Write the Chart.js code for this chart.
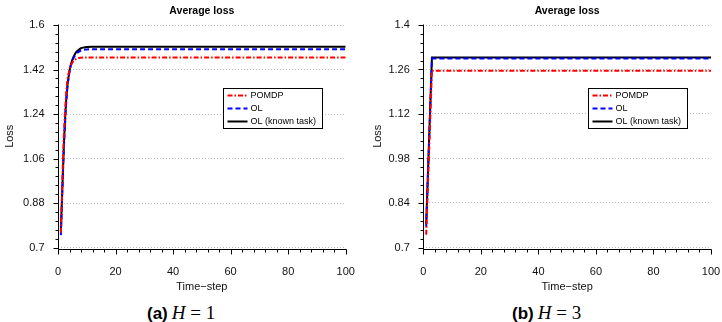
<!DOCTYPE html>
<html>
<head>
<meta charset="utf-8">
<script src="https://cdn.jsdelivr.net/npm/chart.js@4.4.1/dist/chart.umd.min.js"></script>
<style>
  body { margin: 0; background: #fff; width: 722px; height: 322px; position: relative; overflow: hidden; }
  canvas { position: absolute; top: 0; }
  #lossA { left: 0; }
  #lossB { left: 361px; }
  .cap { position: absolute; top: 302px; line-height: 22px; white-space: nowrap; color: #000; }
  .cap b { font-family: "Liberation Sans", Arial, sans-serif; font-size: 17px; }
  .cap .m { font-family: "Liberation Serif", "DejaVu Serif", serif; font-size: 19px; }
</style>
</head>
<body>
<canvas id="lossA" width="361" height="300"></canvas>
<canvas id="lossB" width="361" height="300"></canvas>
<div class="cap" style="left:147px"><b>(a)</b> <span class="m"><i>H</i> = 1</span></div>
<div class="cap" style="left:512px"><b>(b)</b> <span class="m"><i>H</i> = 3</span></div>
<script>
// (a) H = 1
const stepsA   = [1, 2, 3, 4, 5, 6, 7, 8, 9, 10, 12, 15, 20, 100];
const pomdpA   = [0.76, 1.14, 1.345, 1.42, 1.448, 1.46, 1.466, 1.468, 1.469, 1.469, 1.469, 1.469, 1.469, 1.469];
const olA      = [0.75, 1.09, 1.31, 1.41, 1.455, 1.478, 1.49, 1.497, 1.5, 1.501, 1.502, 1.502, 1.502, 1.502];
const olKnownA = [0.765, 1.10, 1.32, 1.415, 1.46, 1.485, 1.498, 1.506, 1.509, 1.511, 1.512, 1.512, 1.512, 1.512];
const yTicksA  = [0.7, 0.88, 1.06, 1.24, 1.42, 1.6];

// (b) H = 3
const stepsB   = [1, 2, 3, 4, 100];
const pomdpB   = [0.74, 1.0, 1.256, 1.256, 1.256];
const olB      = [0.765, 1.03, 1.295, 1.295, 1.295];
const olKnownB = [0.775, 1.037, 1.298, 1.298, 1.298];
const yTicksB  = [0.7, 0.84, 0.98, 1.12, 1.26, 1.4];

const xTicks = [0, 20, 40, 60, 80, 100];
const seriesNames = ['POMDP', 'OL', 'OL (known task)'];

const FONT = '"Liberation Sans", Arial, sans-serif';

// axes with outward ticks + minor ticks, and the title over the plot
const matlabAxes = {
  id: 'matlabAxes',
  afterDraw(chart, args, o) {
    const ctx = chart.ctx;
    const a = chart.chartArea;
    const xs = chart.scales.x, ys = chart.scales.y;
    const ax = Math.round(a.left) + 0.5;
    const ay = Math.round(a.bottom) + 1.5;
    ctx.save();
    ctx.strokeStyle = '#000';
    ctx.lineWidth = 1;
    ctx.setLineDash([]);
    ctx.beginPath();
    ctx.moveTo(ax, Math.round(a.top) - 0.5);
    ctx.lineTo(ax, ay);
    ctx.lineTo(Math.round(a.right) + 0.5, ay);
    // y ticks
    for (let i = 0; i < o.yTicks.length; i++) {
      const v0 = o.yTicks[i];
      const py = Math.round(ys.getPixelForValue(v0)) + 0.5;
      ctx.moveTo(ax - 5, py); ctx.lineTo(ax, py);
      if (i < o.yTicks.length - 1) {
        const step = (o.yTicks[i + 1] - v0) / 5;
        for (let k = 1; k < 5; k++) {
          const pm = Math.round(ys.getPixelForValue(v0 + k * step)) + 0.5;
          ctx.moveTo(ax - 3, pm); ctx.lineTo(ax, pm);
        }
      }
    }
    // x ticks
    for (let v = 0; v <= 100; v += 4) {
      const px = Math.round(xs.getPixelForValue(v)) + 0.5;
      const major = v % 20 === 0;
      ctx.moveTo(px, ay); ctx.lineTo(px, ay + (major ? 5 : 3));
    }
    ctx.stroke();
    ctx.fillStyle = '#000';
    ctx.font = 'bold 10.5px ' + FONT;
    ctx.textAlign = 'center';
    ctx.textBaseline = 'middle';
    ctx.fillText('Average loss', (a.left + a.right) / 2, 11.5);
    ctx.restore();
  }
};

const boxLegend = {
  id: 'boxLegend',
  afterDraw(chart) {
    const ctx = chart.ctx;
    const a = chart.chartArea;
    const x0 = Math.round(a.left + 165) + 0.5, y0 = 88.5, w = 99, h = 40;
    ctx.save();
    ctx.fillStyle = '#fff';
    ctx.fillRect(x0, y0, w, h);
    ctx.strokeStyle = '#000';
    ctx.lineWidth = 1;
    ctx.setLineDash([]);
    ctx.strokeRect(x0, y0, w, h);
    ctx.font = '9px ' + FONT;
    ctx.textBaseline = 'middle';
    chart.data.datasets.forEach((ds, i) => {
      const y = y0 + 7 + i * 13;
      ctx.strokeStyle = ds.borderColor;
      ctx.lineWidth = ds.borderWidth;
      ctx.setLineDash(ds.borderDash || []);
      ctx.beginPath();
      ctx.moveTo(x0 + 4, y);
      ctx.lineTo(x0 + 24, y);
      ctx.stroke();
      ctx.fillStyle = '#000';
      ctx.fillText(ds.label, x0 + 27, y + 0.5);
    });
    ctx.restore();
  }
};

function drawLoss(id, steps, pomdp, ol, olKnown, yTicks, yAxisW, yTitlePad, padRight, curve) {
  const pts = (vals) => vals.map((v, i) => ({ x: steps[i], y: v }));
  const styles = [
    { color: '#ff0000', dash: [5, 2, 1.5, 2] },
    { color: '#0000ff', dash: [5, 3] },
    { color: '#000000', dash: [] }
  ];
  const datasets = [pomdp, ol, olKnown].map((vals, i) => ({
    label: seriesNames[i],
    data: pts(vals),
    borderColor: styles[i].color,
    borderDash: styles[i].dash,
    borderWidth: 2,
    pointRadius: 0,
    fill: false,
    cubicInterpolationMode: curve ? 'monotone' : 'default',
    tension: 0
  }));

  return new Chart(document.getElementById(id), {
    type: 'line',
    data: { datasets: datasets },
    options: {
      responsive: false,
      animation: false,
      layout: { padding: { left: 0, right: padRight, top: 25, bottom: 0 } },
      plugins: {
        legend: { display: false },
        tooltip: { enabled: false },
        title: { display: false },
        matlabAxes: { yTicks: yTicks }
      },
      scales: {
        x: {
          type: 'linear',
          min: 0,
          max: 100,
          afterBuildTicks: (s) => { s.ticks = xTicks.map(v => ({ value: v })); },
          afterFit: (s) => { s.height = 52.5; s.paddingLeft = 0; s.paddingRight = 0; },
          grid: { display: false, drawTicks: false },
          border: { display: false },
          ticks: { padding: 18, maxRotation: 0, color: '#111', font: { family: FONT, size: 11 } },
          title: { display: true, text: 'Time\u2212step', color: '#111', font: { family: FONT, size: 11 }, padding: { top: 0, bottom: 6.4 } }
        },
        y: {
          min: yTicks[0],
          max: yTicks[yTicks.length - 1],
          afterBuildTicks: (s) => { s.ticks = yTicks.map(v => ({ value: v })); },
          afterFit: (s) => { s.width = yAxisW; },
          grid: { color: '#bdbdbd', lineWidth: 1, drawTicks: false },
          border: { display: false, dash: [1, 2] },
          ticks: { padding: 13.5, color: '#111', font: { family: FONT, size: 11 }, callback: (v) => String(v) },
          title: { display: true, text: 'Loss', color: '#111', font: { family: FONT, size: 11 }, padding: { top: yTitlePad, bottom: 0 } }
        }
      }
    },
    plugins: [matlabAxes, boxLegend]
  });
}

drawLoss('lossA', stepsA, pomdpA, olA, olKnownA, yTicksA, 58, 3.4, 15.3, true);
drawLoss('lossB', stepsB, pomdpB, olB, olKnownB, yTicksB, 62.3, 10, 11, false);
</script>
</body>
</html>
